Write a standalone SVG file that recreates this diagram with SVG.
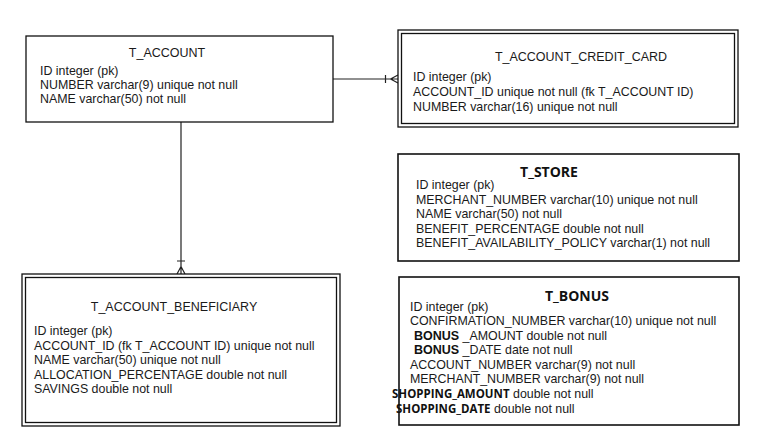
<svg xmlns="http://www.w3.org/2000/svg" width="762" height="446" viewBox="0 0 762 446">
<style>
.box{fill:#fff;stroke:#111;stroke-width:1.3}
.t{font-family:"Liberation Sans",Arial,sans-serif;font-size:12.4px;fill:#1a1a1a}
.ttl{font-family:"Liberation Sans",Arial,sans-serif;font-size:12.5px;fill:#1a1a1a;text-anchor:middle}
.bt{font-family:"Open Sans","Liberation Sans",sans-serif;font-weight:bold;fill:#111}
.bl{font-family:"Liberation Sans",Arial,sans-serif;font-weight:bold;fill:#111}
.c{stroke:#222;stroke-width:1.2;fill:none}
</style>
<rect width="762" height="446" fill="#fff"/>
<g id="connectors">
<path class="c" d="M333 79H398M385.5 75v8M390.5 79L398 75M390.5 79L398 79M390.5 79L398 83"/>
<path class="c" d="M181 122V274M177 261h8M181 266.5L177 274M181 266.5L181 274M181 266.5L185 274"/>
</g>
<g id="t_account">
<rect class="box" x="26" y="36" width="307" height="86"/>
<text class="ttl" x="167" y="57">T_ACCOUNT</text>
<text class="t" x="40" y="75">ID integer (pk)</text>
<text class="t" x="40" y="89">NUMBER varchar(9) unique not null</text>
<text class="t" x="40" y="103">NAME varchar(50) not null</text>
</g>
<g id="t_account_credit_card">
<rect class="box" x="398" y="30" width="340" height="97"/>
<rect class="box" x="401.5" y="33.5" width="333" height="90"/>
<text class="ttl" x="581" y="61">T_ACCOUNT_CREDIT_CARD</text>
<text class="t" x="413" y="81">ID integer (pk)</text>
<text class="t" x="413" y="96">ACCOUNT_ID unique not null (fk T_ACCOUNT ID)</text>
<text class="t" x="413" y="111">NUMBER varchar(16) unique not null</text>
</g>
<g id="t_store">
<rect class="box" x="398" y="154" width="341" height="107" style="stroke-width:1.6"/>
<text class="bt" x="549" y="177" font-size="14" text-anchor="middle">T_STORE</text>
<text class="t" x="416" y="189">ID integer (pk)</text>
<text class="t" x="416" y="204">MERCHANT_NUMBER varchar(10) unique not null</text>
<text class="t" x="416" y="218">NAME varchar(50) not null</text>
<text class="t" x="416" y="233">BENEFIT_PERCENTAGE double not null</text>
<text class="t" x="416" y="247">BENEFIT_AVAILABILITY_POLICY varchar(1) not null</text>
</g>
<g id="t_bonus">
<rect class="box" x="399" y="277" width="340" height="148" style="stroke-width:1.6"/>
<text class="bt" x="577" y="301" font-size="14" text-anchor="middle">T_BONUS</text>
<text class="t" x="410" y="311">ID integer (pk)</text>
<text class="t" x="410" y="325">CONFIRMATION_NUMBER varchar(10) unique not null</text>
<text class="t" x="414" y="340"><tspan class="bl" font-size="12.5">BONUS</tspan> _AMOUNT double not null</text>
<text class="t" x="414" y="354"><tspan class="bl" font-size="12.5">BONUS</tspan> _DATE date not null</text>
<text class="t" x="410" y="369">ACCOUNT_NUMBER varchar(9) not null</text>
<text class="t" x="410" y="383">MERCHANT_NUMBER varchar(9) not null</text>
<text class="t" x="392" y="398"><tspan class="bt" font-size="11.5">SHOPPING_AMOUNT</tspan> double not null</text>
<text class="t" x="396" y="413"><tspan class="bt" font-size="11.5">SHOPPING_DATE</tspan> double not null</text>
</g>
<g id="t_account_beneficiary">
<rect class="box" x="22" y="274" width="318" height="152"/>
<rect class="box" x="25.5" y="277.5" width="311" height="145"/>
<text class="ttl" x="174" y="311">T_ACCOUNT_BENEFICIARY</text>
<text class="t" x="34" y="335">ID integer (pk)</text>
<text class="t" x="34" y="350">ACCOUNT_ID (fk T_ACCOUNT ID) unique not null</text>
<text class="t" x="34" y="364">NAME varchar(50) unique not null</text>
<text class="t" x="34" y="379">ALLOCATION_PERCENTAGE double not null</text>
<text class="t" x="34" y="393">SAVINGS double not null</text>
</g>
</svg>
